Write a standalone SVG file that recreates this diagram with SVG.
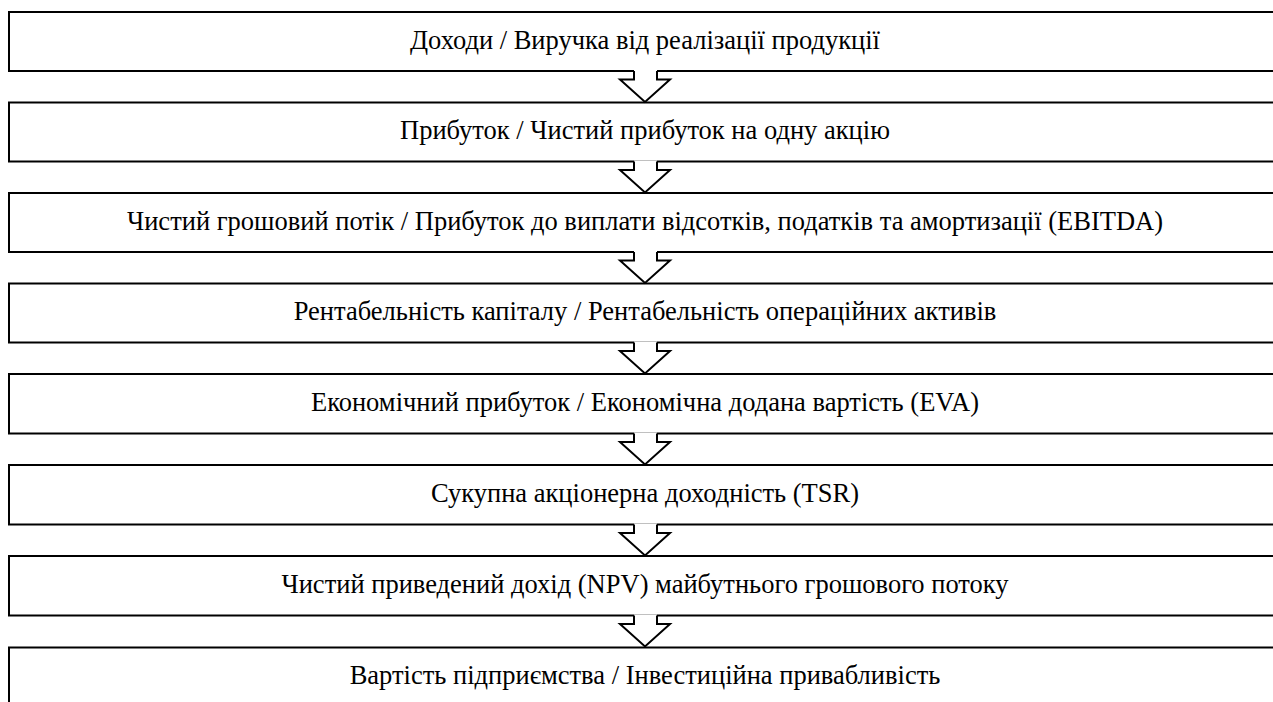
<svg xmlns="http://www.w3.org/2000/svg" width="1273" height="702" viewBox="0 0 1273 702">
<defs>
<style>
.box{fill:#fff;stroke:#000;stroke-width:2}
.af{fill:#fff;stroke:none}
.as{fill:none;stroke:#000;stroke-width:2;stroke-linejoin:miter}
</style>
<path id="arrowShape" class="af" d="M634,-1 V8.5 H620 L645,31 L670,8.5 H657 V-1 Z"/>
</defs>
<rect width="1273" height="702" fill="#fff"/>
<g font-family="Liberation Serif" font-size="26.5" fill="#000" text-anchor="middle">
<g id="n1"><rect class="box" x="9" y="12" width="1272" height="59"/><text x="645" y="48.5">Доходи / Виручка від реалізації продукції</text></g>
<g id="n2"><rect class="box" x="9" y="102.5" width="1272" height="59"/><text x="645" y="139">Прибуток / Чистий прибуток на одну акцію</text></g>
<g id="n3"><rect class="box" x="9" y="193" width="1272" height="59"/><text x="645" y="229.5">Чистий грошовий потік / Прибуток до виплати відсотків, податків та амортизації (EBITDA)</text></g>
<g id="n4"><rect class="box" x="9" y="283.5" width="1272" height="59"/><text x="645" y="320">Рентабельність капіталу / Рентабельність операційних активів</text></g>
<g id="n5"><rect class="box" x="9" y="374" width="1272" height="59.5"/><text x="645" y="410.5">Економічний прибуток / Економічна додана вартість (EVA)</text></g>
<g id="n6"><rect class="box" x="9" y="465" width="1272" height="59.5"/><text x="645" y="501.5">Сукупна акціонерна доходність (TSR)</text></g>
<g id="n7"><rect class="box" x="9" y="556" width="1272" height="59.5"/><text x="645" y="592.5">Чистий приведений дохід (NPV) майбутнього грошового потоку</text></g>
<g id="n8"><rect class="box" x="9" y="647.5" width="1272" height="80"/><text x="645" y="684">Вартість підприємства / Інвестиційна привабливість</text></g>
</g>
<g id="connectors">
<g transform="translate(0,71)"><use href="#arrowShape"/><path class="as" d="M634,0 V8.5 H620 L645,31 L670,8.5 H657 V0"/></g>
<g transform="translate(0,161.5)"><use href="#arrowShape"/><path class="as" d="M634,0 V8.5 H620 L645,31 L670,8.5 H657 V0"/></g>
<g transform="translate(0,252)"><use href="#arrowShape"/><path class="as" d="M634,0 V8.5 H620 L645,31 L670,8.5 H657 V0"/></g>
<g transform="translate(0,342.5)"><use href="#arrowShape"/><path class="as" d="M634,0 V8.5 H620 L645,31 L670,8.5 H657 V0"/></g>
<g transform="translate(0,433.5)"><use href="#arrowShape"/><path class="as" d="M634,0 V8.5 H620 L645,31 L670,8.5 H657 V0"/></g>
<g transform="translate(0,524.5)"><use href="#arrowShape"/><path class="as" d="M634,0 V8.5 H620 L645,31 L670,8.5 H657 V0"/></g>
<g transform="translate(0,615.5)"><use href="#arrowShape"/><path class="as" d="M634,0 V8.5 H620 L645,31 L670,8.5 H657 V0"/></g>
</g>
</svg>
